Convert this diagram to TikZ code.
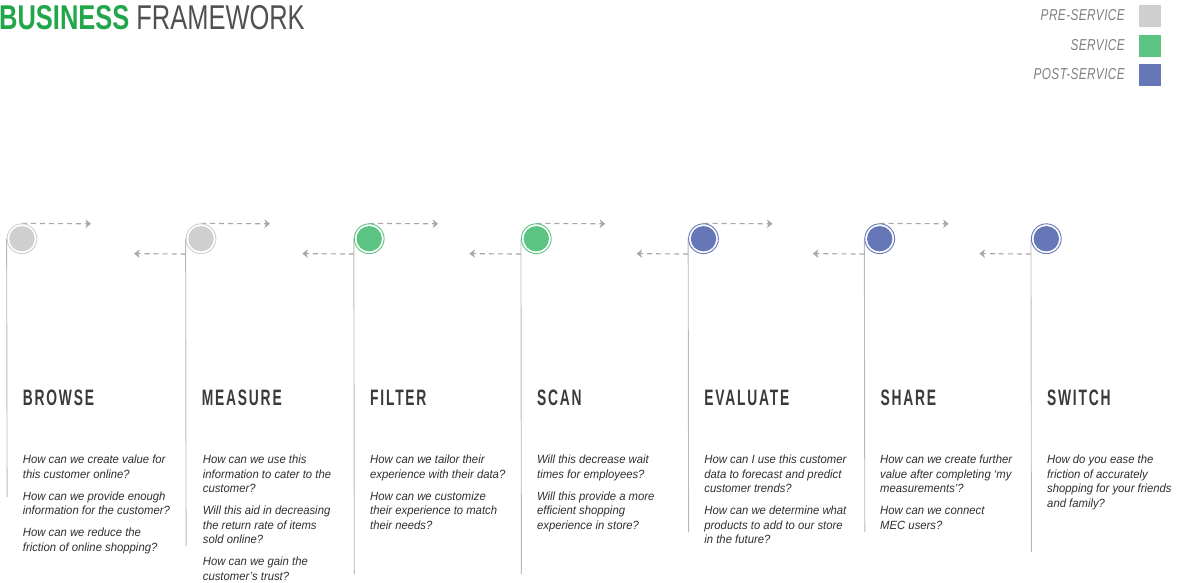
\documentclass[tikz,border=0pt]{standalone}
\usepackage{fontspec}
\setmainfont{Liberation Sans}
\newfontfamily\headB[FakeStretch=0.74]{Liberation Sans Bold}
\newfontfamily\headR[FakeStretch=0.74]{Liberation Sans}
\newfontfamily\ttlF[FakeStretch=0.62,LetterSpace=8]{Liberation Sans Bold}
\newfontfamily\legF[FakeStretch=0.75,LetterSpace=2.5]{Liberation Sans Italic}
\newfontfamily\bodF[FakeStretch=0.95]{Liberation Sans Italic}
\usetikzlibrary{arrows.meta}
\definecolor{pre}{HTML}{CFCFCF}
\definecolor{svc}{HTML}{5CC482}
\definecolor{post}{HTML}{6677B8}
\definecolor{brand}{HTML}{22A64A}
\definecolor{darkhead}{HTML}{505050}
\definecolor{legtext}{HTML}{7F7F7F}
\definecolor{ttltext}{HTML}{3A3A3A}
\definecolor{bodtext}{HTML}{2F2F2F}
\definecolor{vln}{HTML}{B8B8B8}
\definecolor{dsh}{HTML}{A8A8A8}
\pgfdeclarelayer{bg}
\pgfsetlayers{bg,main}
\begin{document}
\begin{tikzpicture}[x=1pt,y=-1pt,
  stage/.style={circle, draw=#1, line width=0.9pt, fill=white,
    minimum size=29.8pt, inner sep=0pt,
    path picture={\fill[#1] (path picture bounding box.center) circle (12.7pt);}},
  legbox/.style={rectangle, fill=#1, minimum size=22pt, inner sep=0pt},
  legtxt/.style={anchor=base east, inner sep=0pt, text=legtext,
    font=\legF\fontsize{15.8}{18}\selectfont},
  ttl/.style={anchor=base west, inner sep=0pt, text=ttltext,
    font=\ttlF\fontsize{22.3}{26}\selectfont},
  bod/.style={anchor=north west, inner sep=0pt, text=bodtext, align=left,
    font=\bodF\fontsize{11.9}{14.5}\selectfont},
  vline/.style={draw=vln, line width=0.9pt},
  dasharrow/.style={draw=dsh, line width=1.1pt, dash pattern=on 5pt off 4pt,
    -{Stealth[length=5.5pt,width=8.5pt,inset=1.5pt]}}
]
\useasboundingbox (0,0) rectangle (1177,582);

% heading
\node[anchor=base west, inner sep=0pt] (head) at (-1,29.5)
  {\fontsize{34.4}{40}\selectfont\headB\color{brand}BUSINESS \headR\color{darkhead}FRAMEWORK};

% legend
\node[legtxt] (lpre) at (1125,20.7) {PRE-SERVICE};
\node[legtxt] (lsvc) at (1125,50) {SERVICE};
\node[legtxt] (lpost) at (1125,79) {POST-SERVICE};
\node[legbox=pre] (kpre) at (1150,16) {};
\node[legbox=svc] (ksvc) at (1150,46) {};
\node[legbox=post] (kpost) at (1150,75) {};

% stages
\foreach \cx/\col/\bot/\i in {22/pre/497/1, 201/pre/546/2, 369.2/svc/574/3,
    536.3/svc/574/4, 703.5/post/532/5, 879.7/post/532/6, 1046.3/post/552/7} {
  \node[stage=\col] (c\i) at (\cx,238.7) {};
  \coordinate (v\i) at (\cx-14.9,\bot);
  \coordinate (t\i) at (\cx+69,223.8);
  \coordinate (b\i) at (\cx-66.9,253.6);
}

\begin{pgfonlayer}{bg}
  \foreach \i in {1,...,7} { \draw[vline] (c\i.west) -- (v\i); }
  \foreach \i in {1,...,6} { \draw[dasharrow] (c\i.north) -- (t\i); }
  \foreach \i in {2,...,7} { \draw[dasharrow] (c\i.south -| c\i.west) -- (b\i); }
\end{pgfonlayer}

% titles
\node[ttl] (h1) at (22.7,405.5) {BROWSE};
\node[ttl] (h2) at (201.7,405.5) {MEASURE};
\node[ttl] (h3) at (370,405.5) {FILTER};
\node[ttl] (h4) at (536.9,405.5) {SCAN};
\node[ttl] (h5) at (704.2,405.5) {EVALUATE};
\node[ttl] (h6) at (880.3,405.5) {SHARE};
\node[ttl] (h7) at (1046.9,405.5) {SWITCH};

% questions
\node[bod] (q1) at (22.7,454.8) {How can we create value for\\this customer online?\\[7.5pt]
  How can we provide enough\\information for the customer?\\[7.5pt]
  How can we reduce the\\friction of online shopping?};
\node[bod] (q2) at (202.7,454.8) {How can we use this\\information to cater to the\\customer?\\[7.5pt]
  Will this aid in decreasing\\the return rate of items\\sold online?\\[7.5pt]
  How can we gain the\\customer’s trust?};
\node[bod] (q3) at (370,454.8) {How can we tailor their\\experience with their data?\\[7.5pt]
  How can we customize\\their experience to match\\their needs?};
\node[bod] (q4) at (536.9,454.8) {Will this decrease wait\\times for employees?\\[7.5pt]
  Will this provide a more\\efficient shopping\\experience in store?};
\node[bod] (q5) at (704.2,454.8) {How can I use this customer\\data to forecast and predict\\customer trends?\\[7.5pt]
  How can we determine what\\products to add to our store\\in the future?};
\node[bod] (q6) at (880,454.8) {How can we create further\\value after completing ‘my\\measurements’?\\[7.5pt]
  How can we connect\\MEC users?};
\node[bod] (q7) at (1047,454.8) {How do you ease the\\friction of accurately\\shopping for your friends\\and family?};
\end{tikzpicture}
\end{document}
